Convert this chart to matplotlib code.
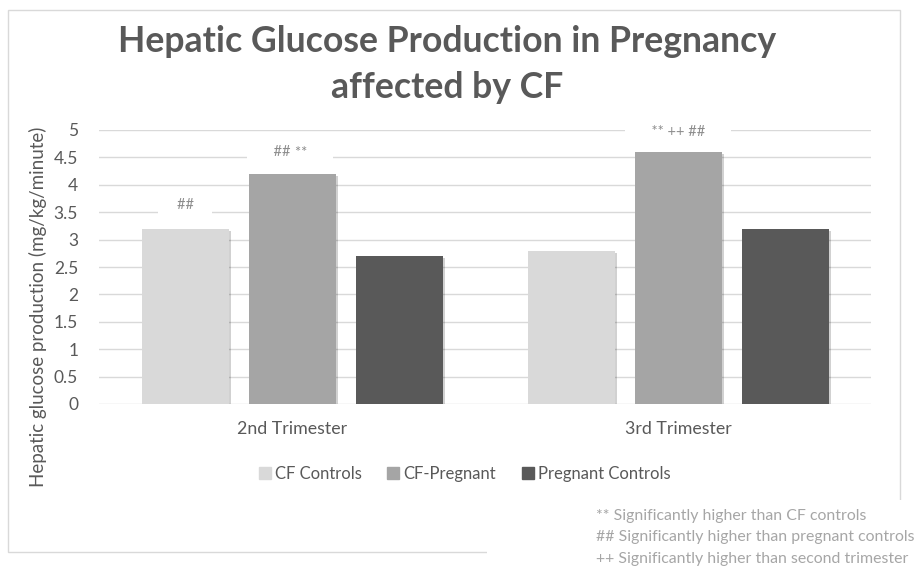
import matplotlib
matplotlib.use("Agg")
import matplotlib.pyplot as plt
import matplotlib.patheffects as pe
from matplotlib.patches import Rectangle
from matplotlib.lines import Line2D
import numpy as np

categories = ["2nd Trimester", "3rd Trimester"]
series_names = ["CF Controls", "CF-Pregnant", "Pregnant Controls"]
cf_controls = [3.2, 2.8]
cf_pregnant = [4.2, 4.6]
pregnant_controls = [2.7, 3.2]
y_ticks = [0, 0.5, 1, 1.5, 2, 2.5, 3, 3.5, 4, 4.5, 5]
footnotes = ["** Significantly higher than CF controls",
             "## Significantly higher than pregnant controls",
             "++ Significantly higher than second trimester"]

colors = ["#D9D9D9", "#A5A5A5", "#595959"]
txt = "#595959"
font = ["Lato", "DejaVu Sans"]
plt.rcParams["font.family"] = font

fig = plt.figure(figsize=(9.15, 5.68), dpi=100)
W, H = 915, 568
ax = fig.add_axes([99 / W, 1 - 404 / H, (871 - 99) / W, (404 - 130) / H])

# chart frame
fig.patches.append(Rectangle((8 / W, 1 - 552 / H), (900 - 8) / W, (552 - 10) / H,
                             transform=fig.transFigure, fill=False,
                             ec="#D9D9D9", lw=1.0, zorder=0))

x = np.arange(len(categories))
step = 107 / 386
width = 87 / 386
shadow = [pe.SimplePatchShadow(offset=(1.5, -1.5), shadow_rgbFace="#000000", alpha=0.18),
          pe.Normal()]
all_series = [cf_controls, cf_pregnant, pregnant_controls]
for i, (vals, c) in enumerate(zip(all_series, colors)):
    bars = ax.bar(x + (i - 1) * step, vals, width, color=c, zorder=3, label=series_names[i])
    for b in bars:
        b.set_path_effects(shadow)

ax.set_xlim(-0.5, 1.5)
ax.set_ylim(0, 5)
ax.set_yticks(y_ticks)
ax.set_yticklabels([f"{t:g}" for t in y_ticks])
ax.set_xticks(x)
ax.set_xticklabels(categories)
ax.grid(axis="y", color="#D9D9D9", lw=1.0, zorder=0)
ax.set_axisbelow(True)
for s in ax.spines.values():
    s.set_visible(False)
ax.tick_params(axis="y", length=0, pad=15, labelsize=12.5, labelcolor=txt)
ax.tick_params(axis="x", length=0, pad=12, labelsize=12.8, labelcolor=txt)

# significance labels
ann_color = "#8C8C8C"
box = dict(boxstyle="square,pad=0.25", fc="white", ec="none")
ax.annotate("    ##    ", (x[0] - step, cf_controls[0]), xytext=(0, 17),
            textcoords="offset points", ha="center", va="center",
            fontsize=10.5, color=ann_color, bbox=box, zorder=4)
ax.annotate("      ##", (x[0], cf_pregnant[0]), xytext=(-1, 16),
            textcoords="offset points", ha="right", va="center",
            fontsize=10.5, color=ann_color, bbox=box, zorder=4)
ax.annotate("**      ", (x[0], cf_pregnant[0]), xytext=(2, 15),
            textcoords="offset points", ha="left", va="center",
            fontsize=10.5, color=ann_color, bbox=box, zorder=4)
ax.annotate("      ** ++ ##      ", (x[1], cf_pregnant[1]), xytext=(0, 14),
            textcoords="offset points", ha="center", va="center",
            fontsize=10.5, color=ann_color, bbox=box, zorder=4)

# title
fig.text(447 / W, 1 - 42 / H, "Hepatic Glucose Production in Pregnancy",
         ha="center", va="center", fontsize=25.7, fontweight="bold", color=txt)
fig.text(447 / W, 1 - 88 / H, "affected by CF",
         ha="center", va="center", fontsize=25.7, fontweight="bold", color=txt)

# y label
fig.text(38 / W, 1 - 307 / H, "Hepatic glucose production (mg/kg/minute)",
         rotation=90, ha="center", va="center", fontsize=13.5, color=txt)

# legend
handles = [Line2D([], [], marker="s", ls="none", markersize=8, color=c) for c in colors]
fig.legend(handles, series_names, loc="center", bbox_to_anchor=(465 / W, 1 - 474 / H),
           ncol=3, frameon=False, fontsize=12, labelcolor=txt,
           handlelength=0.6, handletextpad=0.3, columnspacing=1.6)

# footnote box
fig.patches.append(Rectangle((487 / W, 0), (W - 487) / W, (568 - 500) / H,
                             transform=fig.transFigure, fc="white", ec="none", zorder=1))
for i, t in enumerate(footnotes):
    fig.text(596 / W, 1 - (516 + 21.5 * i) / H, t, ha="left", va="center",
             fontsize=11.4, color="#A6A6A6", zorder=2)

fig.savefig("out.png", dpi=100)
